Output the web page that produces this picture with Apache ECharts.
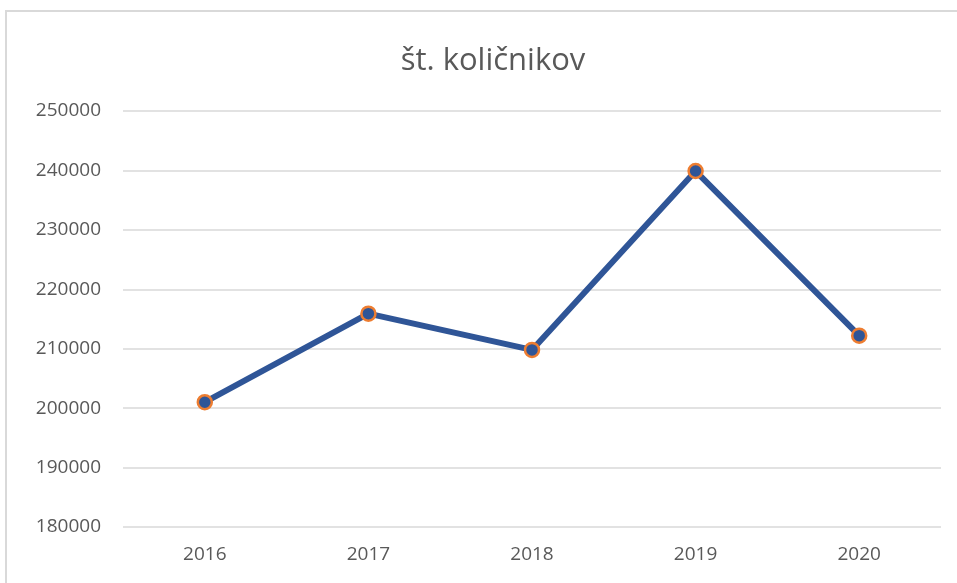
<!DOCTYPE html>
<html>
<head>
<meta charset="utf-8">
<script src="https://cdn.jsdelivr.net/npm/echarts@6/dist/echarts.min.js"></script>
<style>
  html, body { margin: 0; padding: 0; background: #fff; }
  #chart { width: 957px; height: 583px; }
</style>
</head>
<body>
<div id="chart"></div>
<script>
// podatki
const years = ["2016", "2017", "2018", "2019", "2020"];
const kolicniki = [201000, 215900, 209800, 239900, 212200];

const chart = echarts.init(document.getElementById("chart"));

const option = {
  animation: false,
  textStyle: { fontFamily: "Open Sans, Noto Sans, sans-serif" },
  title: {
    text: "št. količnikov",
    left: 488,
    textAlign: "center",
    top: 41,
    textStyle: {
      color: "#595959",
      fontSize: 31,
      fontWeight: "normal",
      fontFamily: "Open Sans, sans-serif",
    },
  },
  graphic: [
    {
      type: "rect",
      shape: { x: 6, y: 11, width: 980, height: 600 },
      style: { fill: "none", stroke: "#d9d9d9", lineWidth: 2 },
      silent: true,
    },
  ],
  grid: {
    left: 123,
    right: 16,
    top: 111,
    bottom: 56,
  },
  xAxis: {
    type: "category",
    data: years,
    boundaryGap: true,
    axisLine: { show: false },
    axisTick: { show: false },
    axisLabel: {
      color: "#595959",
      fontSize: 19,
      margin: 18,
    },
  },
  yAxis: {
    type: "value",
    min: 180000,
    max: 250000,
    interval: 10000,
    axisLine: { show: false },
    axisTick: { show: false },
    axisLabel: {
      color: "#595959",
      fontSize: 19,
      margin: 22,
      formatter: (v) => String(v),
    },
    splitLine: {
      lineStyle: { color: "#d9d9d9", width: 1.5 },
    },
  },
  series: [
    {
      type: "line",
      data: kolicniki,
      symbol: "circle",
      symbolSize: 14,
      lineStyle: { color: "#2F5597", width: 6 },
      itemStyle: {
        color: "#2F5597",
        borderColor: "#ED7D31",
        borderWidth: 2.5,
      },
    },
  ],
};

chart.setOption(option);
</script>
</body>
</html>
